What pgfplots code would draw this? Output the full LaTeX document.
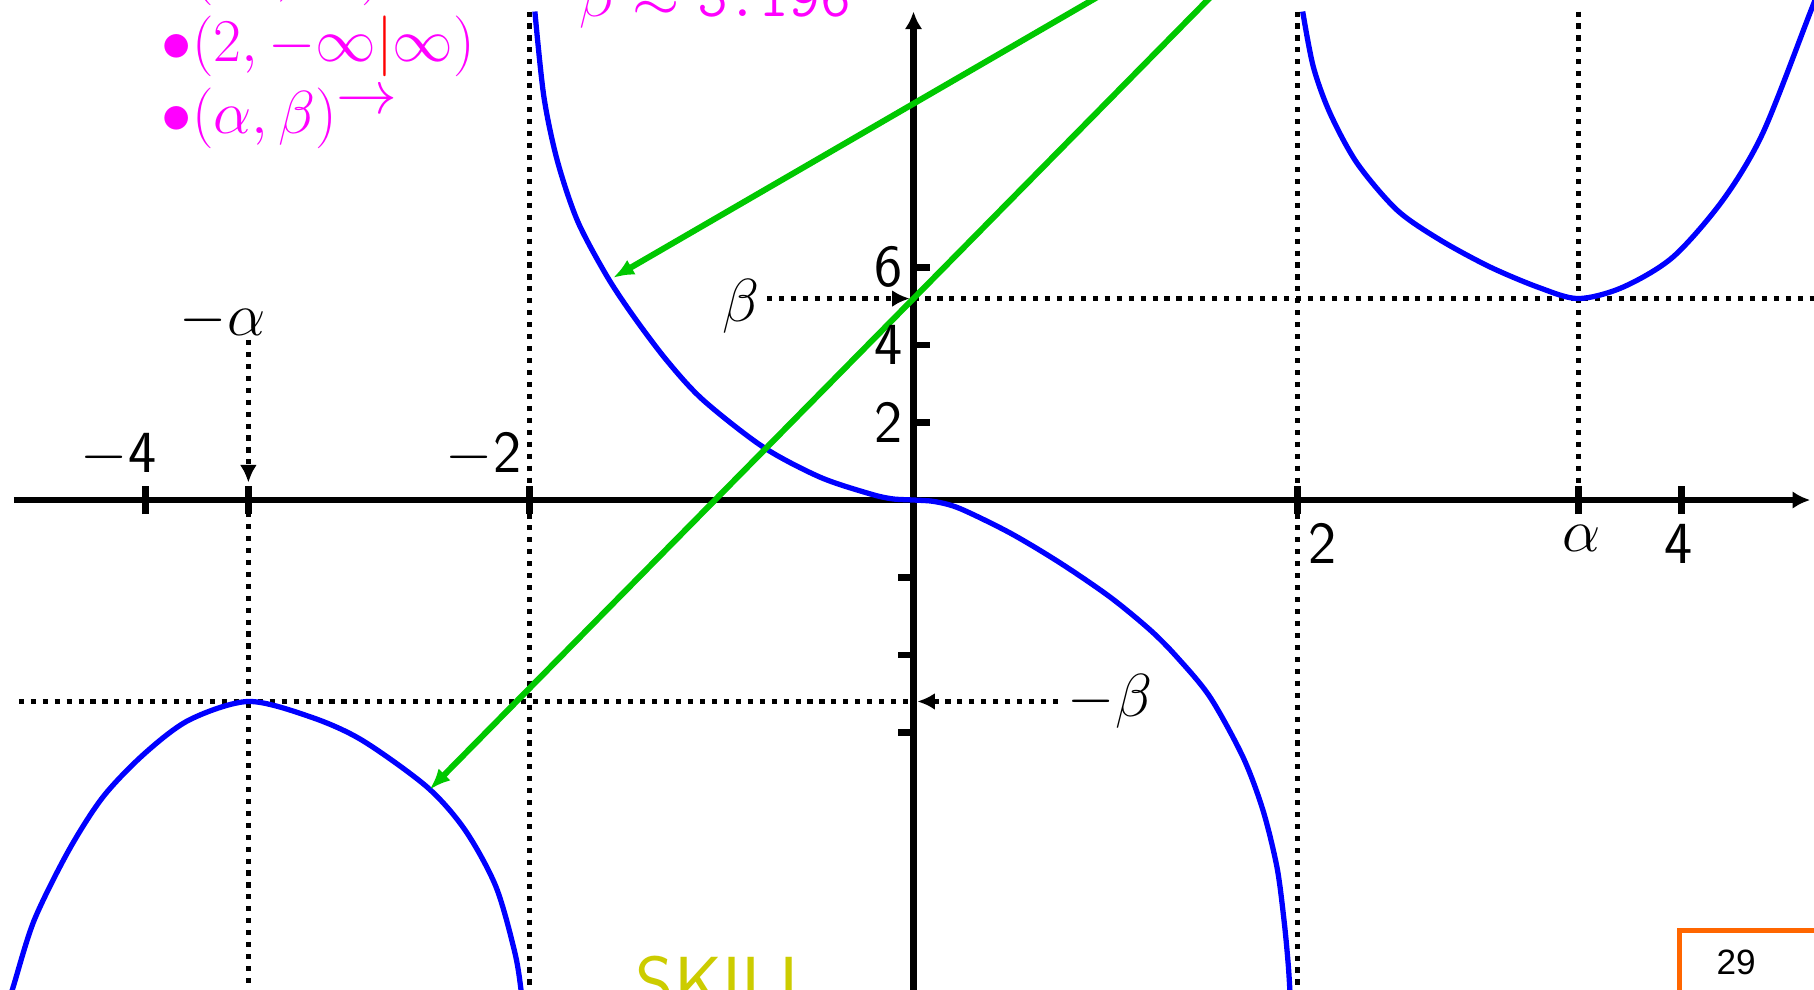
\documentclass[border=0pt]{standalone}
\usepackage{fontspec}
\usepackage{pgfplots}
\pgfplotsset{compat=1.18}
\usetikzlibrary{arrows.meta}
\newfontfamily\pagefont{Liberation Sans}

\definecolor{curveblue}{RGB}{0,0,255}
\definecolor{arrowgreen}{RGB}{0,200,0}
\definecolor{notemagenta}{RGB}{255,0,255}
\definecolor{skillyellow}{RGB}{204,204,0}
\definecolor{frameorange}{RGB}{255,102,0}

\tikzset{
  guide/.style={line width=1.45pt, dash pattern=on 1.45pt off 1.95pt},
  guidetip/.style={-{Latex[length=5pt,width=4.8pt]}},
  big/.style={inner sep=0pt, font=\fontsize{17}{20.4}\selectfont},
  ytickmark/.style={line width=1.8pt},
}

\begin{document}
\begin{tikzpicture}
\useasboundingbox (-9.135,-4.89) rectangle (9.005,5.00);
\clip (-9.135,-4.89) rectangle (9.005,5.00);
\begin{axis}[
  at={(0,0)}, anchor=origin,
  x=1.92cm, y=0.3877cm,
  xmin=-4.685, xmax=4.67, ymin=-14, ymax=12.6,
  axis lines=middle,
  axis line style={line width=1.8pt, -{Latex[length=5pt,width=5pt]}},
  xtick={-4,-3.4641,-2,2,3.4641,4},
  xticklabels={,,,,,},
  ytick=\empty,
  tick align=center,
  major tick length=0.28cm,
  tick style={line width=1.8pt, black},
  clip=false,
]

% asymptotes and guide lines
\draw[guide] (-2,12.6) -- (-2,-14);
\draw[guide] (2,12.6) -- (2,-14);
\draw[guide] (3.4641,12.6) -- (3.4641,0);
\draw[guide] (-3.4641,0) -- (-3.4641,-14);
\draw[guide, guidetip] (-3.4641,4.13) -- (-3.4641,0.45);
\draw[guide] (0,5.196) -- (4.72,5.196);
\draw[guide, guidetip] (-0.764,5.196) -- (-0.02,5.196);
\draw[guide] (-4.66,-5.196) -- (0,-5.196);
\draw[guide, guidetip] (0.753,-5.196) -- (0.02,-5.196);

% y tick marks: right of the axis above zero, left of it below
\draw[ytickmark] (axis cs:0,2) -- ([xshift=0.16cm]axis cs:0,2);
\draw[ytickmark] (axis cs:0,4) -- ([xshift=0.16cm]axis cs:0,4);
\draw[ytickmark] (axis cs:0,6) -- ([xshift=0.16cm]axis cs:0,6);
\draw[ytickmark] (axis cs:0,-2) -- ([xshift=-0.16cm]axis cs:0,-2);
\draw[ytickmark] (axis cs:0,-4) -- ([xshift=-0.16cm]axis cs:0,-4);
\draw[ytickmark] (axis cs:0,-6) -- ([xshift=-0.16cm]axis cs:0,-6);

% the three branches of the curve
\addplot[curveblue, line width=1.5pt, smooth] table {
x y
-1.972 12.60
-1.925 10.40
-1.855 8.75
-1.750 7.20
-1.600 5.80
-1.460 4.75
-1.285 3.60
-1.096 2.58
-0.784 1.37
-0.487 0.59
-0.227 0.16
-0.110 0.03
0 0
0.110 -0.04
0.242 -0.22
0.503 -0.85
0.763 -1.62
1.023 -2.50
1.232 -3.35
1.372 -4.05
1.544 -5.08
1.716 -6.63
1.820 -8.00
1.893 -9.47
1.930 -10.85
1.952 -12.00
1.963 -12.90
1.968 -13.40
};
\addplot[curveblue, line width=1.5pt, smooth] table {
x y
2.027 12.60
2.082 11.18
2.169 9.98
2.310 8.69
2.518 7.48
2.742 6.71
3.003 6.01
3.263 5.47
3.464 5.196
3.695 5.49
3.956 6.27
4.216 7.74
4.424 9.47
4.669 12.56
4.735 13.40
};
\addplot[curveblue, line width=1.5pt, smooth] table {
x y
-4.740 -13.40
-4.686 -12.51
-4.579 -10.83
-4.399 -9.03
-4.220 -7.65
-4.005 -6.54
-3.771 -5.67
-3.464 -5.196
-3.143 -5.59
-2.874 -6.19
-2.534 -7.40
-2.336 -8.51
-2.175 -9.97
-2.075 -11.70
-2.040 -12.80
-2.030 -13.40
};

% pointer arrows
\draw[arrowgreen, line width=1.7pt, -{Latex[length=6pt,width=4.8pt]}] (1.42,14.3) -- (-1.565,5.73);
\draw[arrowgreen, line width=1.7pt, -{Latex[length=6pt,width=4.8pt]}] (1.811,14.3) -- (-2.52,-7.47);

% axis labels
\node[big, anchor=base east] at (-3.94,0.70) {\sffamily$-$4};
\node[big, anchor=base east] at (-2.039,0.70) {\sffamily$-$2};
\node[big, anchor=base west] at (2.055,-1.625) {\sffamily 2};
\node[big, anchor=base] at (3.982,-1.625) {\sffamily 4};
\node[big, anchor=base] at (3.482,-1.34) {$\alpha$};
\node[big, anchor=base east] at (-3.372,4.256) {$-\alpha$};
\node[big, anchor=east] at (-0.055,2) {\sffamily 2};
\node[big, anchor=east] at (-0.055,4) {\sffamily 4};
\node[big, anchor=east] at (-0.055,6) {\sffamily 6};
\node[big, anchor=east] at (-0.80,4.99) {$\beta$};
\node[big, anchor=west] at (0.80,-5.196) {$-\beta$};

% notes
\node[big, anchor=base west, text=notemagenta] at (-3.919,13.13) {$\bullet(\infty,\infty)$};
\node[big, anchor=base west, text=notemagenta] at (-3.919,11.30) {$\bullet(2,-\infty{\color{red}|}\infty)$};
\node[big, anchor=base west, text=notemagenta] at (-3.919,9.466) {$\bullet(\alpha,\beta)$\raisebox{0.33em}{$\rightarrow$}};
\node[big, anchor=base west, text=notemagenta] at (-1.745,12.47) {$\beta\approx\texttt{5.196}$};
\node[inner sep=0pt, anchor=north west, text=skillyellow, font=\sffamily\fontsize{21}{24}\selectfont] at (-1.45,-11.74) {SKILL};
\draw[frameorange, line width=1.4pt, fill=white] (3.99,-11.10) rectangle (5.5,-14);
\node[inner sep=0pt, font=\pagefont\fontsize{10}{12}\selectfont] at (4.284,-11.93) {29};
\end{axis}
\end{tikzpicture}
\end{document}
